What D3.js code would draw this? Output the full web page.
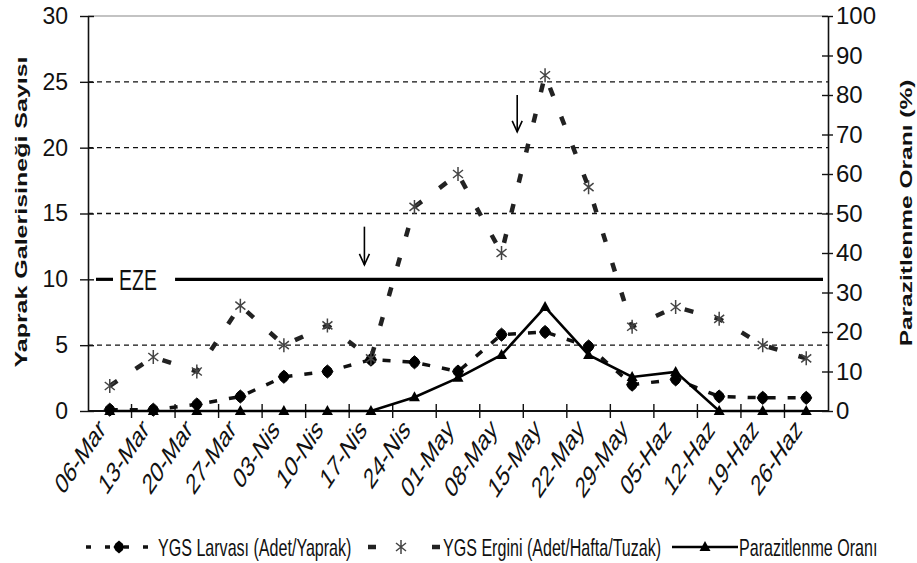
<!DOCTYPE html>
<html><head><meta charset="utf-8">
<script src="https://cdn.jsdelivr.net/npm/d3@7"></script>
<style>body{margin:0;background:#fff}svg{display:block}text{font-family:"Liberation Sans",Arial,sans-serif;fill:#111}</style>
</head><body>
<svg id="chart" width="917" height="563"></svg>
<script>
// ---- data ----
const categories = ["06-Mar","13-Mar","20-Mar","27-Mar","03-Nis","10-Nis","17-Nis","24-Nis","01-May","08-May","15-May","22-May","29-May","05-Haz","12-Haz","19-Haz","26-Haz"];
const larvaValues  = [0.1,0.1,0.5,1.1,2.6,3.0,3.9,3.7,3.0,5.8,6.0,4.9,2.0,2.4,1.1,1.0,1.0];
const erginValues  = [1.9,4.1,3.0,8.0,5.0,6.5,4.0,15.5,18.0,12.0,25.5,17.0,6.4,7.9,7.0,5.0,4.0];
const parasitValues = [0,0,0,0,0,0,0,3.5,8.4,14.2,26.3,14.2,8.6,9.9,0,0,0];
const leftTicks = [0,5,10,15,20,25,30];
const rightTicks = [0,10,20,30,40,50,60,70,80,90,100];
const gridValues = [5,15,20,25];
const ezeValue = 10;
const ezeLabel = "EZE";
const arrowPos = [5.85, 9.36];      // category index (fractional)
const arrowTop = [14.0, 24.0];      // left-axis units
const arrowBottom = [11.1, 21.2];
const leftTitle = "Yaprak Galerisineği Sayısı";
const rightTitle = "Parazitlenme Oranı (%)";
const legendLabels = ["YGS Larvası (Adet/Yaprak)","YGS Ergini (Adet/Hafta/Tuzak)","Parazitlenme Oranı"];

// ---- layout ----
const SQ = 0.67; // horizontal squish of the text
const svg = d3.select("#chart");
const L = 88, R = 828, T = 16, B = 411;
const x = d3.scaleBand().domain(categories).range([L, R]);
const cx = c => x(c) + x.bandwidth() / 2;
const xi = f => L + x.step() * (f + 0.5);
const yL = d3.scaleLinear().domain([0, 30]).range([B, T]);
const yR = d3.scaleLinear().domain([0, 100]).range([B, T]);

// top border
svg.append("line").attr("x1", L).attr("x2", R).attr("y1", yL(30)).attr("y2", yL(30))
  .attr("stroke", "#888").attr("stroke-width", 1.2);
// grid
svg.selectAll(".grid").data(gridValues).join("line").attr("class", "grid")
  .attr("x1", L).attr("x2", R).attr("y1", d => yL(d)).attr("y2", d => yL(d))
  .attr("stroke", "#111").attr("stroke-width", 1.3).attr("stroke-dasharray", "5,4");

// left axis
const gl = svg.append("g").attr("transform", `translate(${L},0)`)
  .call(d3.axisLeft(yL).tickValues(leftTicks).tickSize(8).tickSizeOuter(0).tickPadding(12));
gl.select(".domain").attr("stroke", "#111").attr("stroke-width", 1.6);
gl.selectAll(".tick line").attr("x1", 6).attr("stroke", "#111").attr("stroke-width", 1.4);
gl.selectAll(".tick text").style("font-size", "23px").attr("fill", "#222");

// right axis
const gr = svg.append("g").attr("transform", `translate(${R},0)`)
  .call(d3.axisRight(yR).tickValues(rightTicks).tickSize(5).tickSizeOuter(0).tickPadding(3));
gr.select(".domain").attr("stroke", "#111").attr("stroke-width", 1.6);
gr.selectAll(".tick line").attr("x1", -6).attr("stroke", "#111").attr("stroke-width", 1.4);
gr.selectAll(".tick text").style("font-size", "24px").attr("fill", "#222");
[gl, gr].forEach(g => g.selectAll(".tick text").attr("font-family", null));

// bottom axis
const gb = svg.append("g");
gb.append("line").attr("x1", L).attr("x2", R).attr("y1", B).attr("y2", B)
  .attr("stroke", "#111").attr("stroke-width", 2.2);
const bounds = categories.map(c => x(c)).concat([x(categories[categories.length - 1]) + x.step()]);
gb.selectAll(".bt").data(bounds.slice(1, -1)).join("line").attr("class", "bt")
  .attr("x1", d => d).attr("x2", d => d).attr("y1", B - 7).attr("y2", B + 7)
  .attr("stroke", "#111").attr("stroke-width", 1.4);
gb.selectAll(".xl").data(categories).join("text").attr("class", "xl")
  .attr("transform", d => `translate(${cx(d) - 8},${B + 13}) scale(${SQ},1) rotate(-45)`)
  .attr("text-anchor", "end").attr("dy", "0.35em").style("font-size", "29px").attr("fill", "#1a1a1a")
  .text(d => d);

// axis titles
svg.append("text").attr("transform", `translate(21,212) scale(${SQ},1) rotate(-90)`)
  .attr("text-anchor", "middle").attr("dy", "0.35em").style("font-size", "25px").style("font-weight", "bold")
  .text(leftTitle);
svg.append("text").attr("transform", `translate(906,213) scale(${SQ},1) rotate(-90)`)
  .attr("text-anchor", "middle").attr("dy", "0.35em").style("font-size", "24.5px").style("font-weight", "bold")
  .text(rightTitle);

// EZE threshold
svg.append("line").attr("x1", L + 8).attr("x2", L + 25).attr("y1", yL(ezeValue)).attr("y2", yL(ezeValue))
  .attr("stroke", "#000").attr("stroke-width", 3.2);
svg.append("line").attr("x1", L + 2 * x.step()).attr("x2", R - 5).attr("y1", yL(ezeValue)).attr("y2", yL(ezeValue))
  .attr("stroke", "#000").attr("stroke-width", 3.2);
svg.append("text").attr("transform", `translate(${L + 50},${yL(ezeValue)}) scale(${SQ},1)`)
  .attr("text-anchor", "middle").attr("dy", "0.36em").style("font-size", "29px").text(ezeLabel);

// arrows
const arrowG = svg.selectAll(".arrow").data(arrowPos.map((p, i) => ({p, t: arrowTop[i], b: arrowBottom[i]})))
  .join("g").attr("class", "arrow");
arrowG.append("line").attr("x1", d => xi(d.p)).attr("x2", d => xi(d.p))
  .attr("y1", d => yL(d.t)).attr("y2", d => yL(d.b)).attr("stroke", "#000").attr("stroke-width", 1.6);
arrowG.append("path").attr("d", d => `M${xi(d.p) - 5},${yL(d.b) - 11}L${xi(d.p)},${yL(d.b)}L${xi(d.p) + 5},${yL(d.b) - 11}`)
  .attr("fill", "none").attr("stroke", "#000").attr("stroke-width", 1.6);

// lines
const lineL = d3.line().x((d, i) => cx(categories[i])).y(d => yL(d));
const lineR = d3.line().x((d, i) => cx(categories[i])).y(d => yR(d));
svg.append("path").datum(erginValues).attr("d", lineL).attr("fill", "none")
  .attr("stroke", "#222").attr("stroke-width", 4.5).attr("stroke-dasharray", "9,22");
svg.append("path").datum(larvaValues).attr("d", lineL).attr("fill", "none")
  .attr("stroke", "#111").attr("stroke-width", 3.5).attr("stroke-dasharray", "8,12");
svg.append("path").datum(parasitValues).attr("d", lineR).attr("fill", "none")
  .attr("stroke", "#000").attr("stroke-width", 2.6);

// markers
const diamond = "M0,-6.5L3.5,-3.5L5.5,0L3.5,3.5L0,6.5L-3.5,3.5L-5.5,0L-3.5,-3.5Z";
const tri = "M0,-6L5.5,4L-5.5,4Z";
const star = "M0,-7V7M-5,-4L5,4M-5,4L5,-4";
svg.selectAll(".dm").data(larvaValues).join("path").attr("class", "dm")
  .attr("transform", (d, i) => `translate(${cx(categories[i])},${yL(d)})`)
  .attr("d", diamond).attr("fill", "#000").attr("stroke", "#000").attr("stroke-width", 1);
svg.selectAll(".st").data(erginValues).join("path").attr("class", "st")
  .attr("transform", (d, i) => `translate(${cx(categories[i])},${yL(d)})`)
  .attr("d", star).attr("fill", "none").attr("stroke", "#444").attr("stroke-width", 1.5);
svg.selectAll(".tr").data(parasitValues).join("path").attr("class", "tr")
  .attr("transform", (d, i) => `translate(${cx(categories[i])},${yR(d)})`)
  .attr("d", tri).attr("fill", "#000");

// legend
const LY = 547;
const lg = svg.append("g");
// item 1
lg.append("line").attr("x1", 86).attr("x2", 155).attr("y1", LY).attr("y2", LY)
  .attr("stroke", "#111").attr("stroke-width", 3.5).attr("stroke-dasharray", "5,14");
lg.append("path").attr("transform", `translate(119,${LY})`).attr("d", diamond).attr("fill", "#000");
lg.append("text").attr("transform", `translate(158,${LY}) scale(${SQ},1)`).attr("dy", "0.36em")
  .style("font-size", "24px").text(legendLabels[0]);
// item 2
lg.append("line").attr("x1", 368).attr("x2", 440).attr("y1", LY).attr("y2", LY)
  .attr("stroke", "#222").attr("stroke-width", 4.5).attr("stroke-dasharray", "8,56");
lg.append("path").attr("transform", `translate(401,${LY})`).attr("d", star).attr("fill", "none")
  .attr("stroke", "#444").attr("stroke-width", 1.5);
lg.append("text").attr("transform", `translate(443,${LY}) scale(${SQ},1)`).attr("dy", "0.36em")
  .style("font-size", "24px").text(legendLabels[1]);
// item 3
lg.append("line").attr("x1", 672).attr("x2", 738).attr("y1", LY).attr("y2", LY)
  .attr("stroke", "#000").attr("stroke-width", 2.6);
lg.append("path").attr("transform", `translate(705,${LY})`).attr("d", tri).attr("fill", "#000");
lg.append("text").attr("transform", `translate(739,${LY}) scale(${SQ},1)`).attr("dy", "0.36em")
  .style("font-size", "24px").text(legendLabels[2]);
</script>
</body></html>
